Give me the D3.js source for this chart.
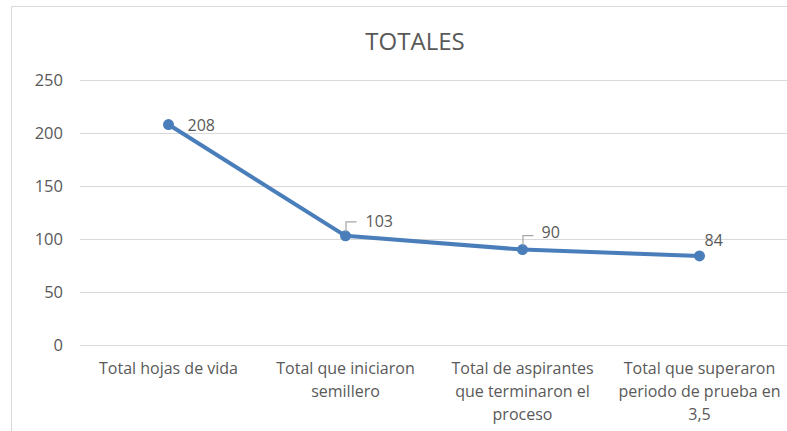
<!DOCTYPE html>
<html lang="es"><head><meta charset="UTF-8">
<title>TOTALES</title>
<script src="https://cdn.jsdelivr.net/npm/d3@7"></script>
<style>
  body { margin: 0; background: #fff; }
  text { font-family: "Open Sans", "Liberation Sans", Arial, sans-serif; fill: #595959; }
</style>
</head>
<body>
<script>
// data
var categories = [
  ["Total hojas de vida"],
  ["Total que iniciaron", "semillero"],
  ["Total de aspirantes", "que terminaron el", "proceso"],
  ["Total que superaron", "periodo de prueba en", "3,5"]
];
var values = [208, 103, 90, 84];
var yTicks = [0, 50, 100, 150, 200, 250];
var title = "TOTALES";

var w = 787, h = 431;
var svg = d3.select("body").append("svg").attr("width", w).attr("height", h);

// chart border
svg.append("rect").attr("x", 11.5).attr("y", 6.5).attr("width", 800).attr("height", 450)
  .attr("fill", "#fff").attr("stroke", "#d9d9d9");

var x = d3.scaleBand().domain(d3.range(categories.length)).range([80, 788]);
var y = d3.scaleLinear().domain([0, 250]).range([345, 80]);

// grid
svg.append("g").selectAll("line").data(yTicks).enter().append("line")
  .attr("x1", 80).attr("x2", 787)
  .attr("y1", function(d) { return Math.round(y(d)) + 0.5; })
  .attr("y2", function(d) { return Math.round(y(d)) + 0.5; })
  .attr("stroke", "#d9d9d9").attr("stroke-width", 1);

// y axis labels
var yAxis = d3.axisLeft(y).tickValues(yTicks).tickSize(0).tickPadding(17);
var ga = svg.append("g").attr("transform", "translate(80,0)").call(yAxis);
ga.select(".domain").remove();
ga.selectAll("text").style("font-size", "16.5px").attr("fill", "#595959")
  .style("font-family", "'Open Sans', 'Liberation Sans', Arial, sans-serif");

// x labels
var xl = svg.append("g").selectAll("text").data(categories).enter().append("text")
  .attr("text-anchor", "middle").style("font-size", "16px")
  .attr("x", function(d, i) { return x(i) + x.bandwidth() / 2; })
  .attr("y", 374);
xl.selectAll("tspan").data(function(d) { return d; }).enter().append("tspan")
  .attr("x", function() { return d3.select(this.parentNode).attr("x"); })
  .attr("dy", function(d, i) { return i === 0 ? 0 : 23; })
  .text(function(d) { return d; });

// title
svg.append("text").attr("x", 415).attr("y", 50).attr("text-anchor", "middle")
  .style("font-size", "24px").text(title);

var cx = function(i) { return x(i) + x.bandwidth() / 2; };

// line
var line = d3.line().x(function(d, i) { return cx(i); }).y(function(d) { return y(d); });
svg.append("path").datum(values).attr("d", line).attr("fill", "none")
  .attr("stroke", "#4a7ebb").attr("stroke-width", 4).attr("stroke-linejoin", "round");

svg.append("g").selectAll("circle").data(values).enter().append("circle")
  .attr("cx", function(d, i) { return cx(i); }).attr("cy", function(d) { return y(d); })
  .attr("r", 5.5).attr("fill", "#4a7ebb");

// leader lines for middle labels
svg.append("g").selectAll("path").data(values.slice(1, 3)).enter().append("path")
  .attr("d", function(d, i) {
    var px = cx(i + 1), py = y(d);
    return "M" + (px + 0.5) + "," + (py - 4) + "V" + (py - 14) + "H" + (px + 11);
  })
  .attr("fill", "none").attr("stroke", "#a6a6a6").attr("stroke-width", 1.2);

// data labels
var lblOff = [[19, 6], [20, -9], [19, -12], [5, -10]];
svg.append("g").selectAll("text").data(values).enter().append("text")
  .style("font-size", "16px")
  .attr("x", function(d, i) { return cx(i) + lblOff[i][0]; })
  .attr("y", function(d, i) { return y(d) + lblOff[i][1]; })
  .text(function(d) { return d; });
</script>
</body></html>
